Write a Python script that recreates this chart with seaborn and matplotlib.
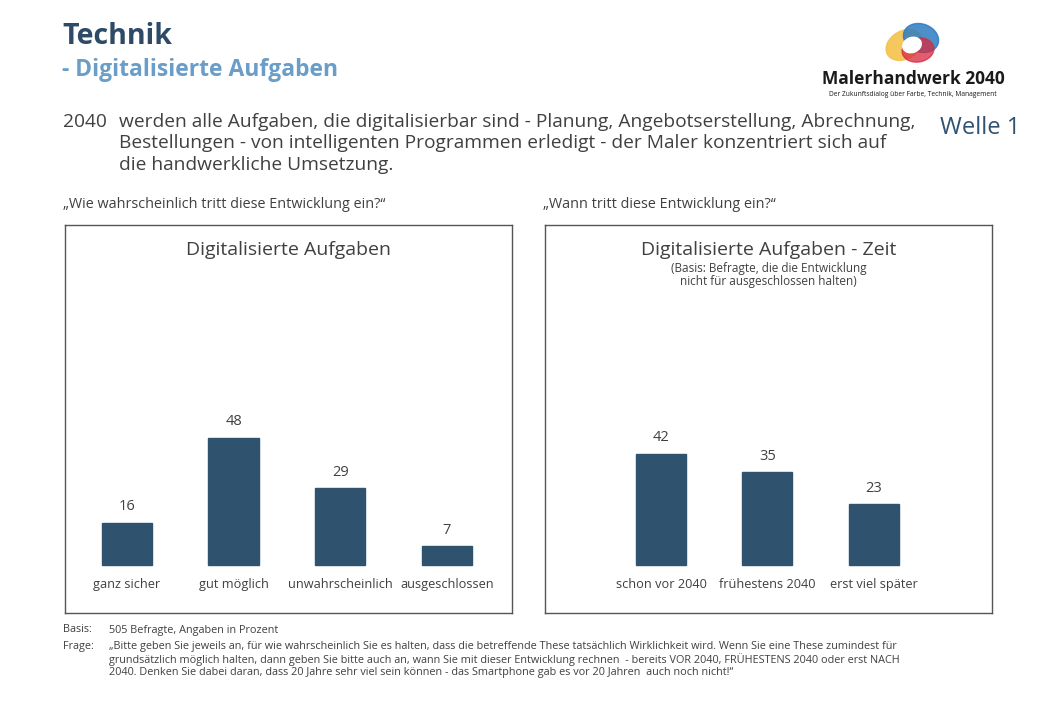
import matplotlib
matplotlib.use("Agg")
import matplotlib.pyplot as plt
from matplotlib.patches import Ellipse
import seaborn as sns
import pandas as pd

# data
left_cats = ["ganz sicher", "gut möglich", "unwahrscheinlich", "ausgeschlossen"]
left_vals = [16, 48, 29, 7]
right_cats = ["schon vor 2040", "frühestens 2040", "erst viel später"]
right_vals = [42, 35, 23]

left_title = "Digitalisierte Aufgaben"
right_title = "Digitalisierte Aufgaben - Zeit"
right_sub = "(Basis: Befragte, die die Entwicklung\nnicht für ausgeschlossen halten)"
left_q = "„Wie wahrscheinlich tritt diese Entwicklung ein?“"
right_q = "„Wann tritt diese Entwicklung ein?“"

body_lines = [
    "werden alle Aufgaben, die digitalisierbar sind - Planung, Angebotserstellung, Abrechnung,",
    "Bestellungen - von intelligenten Programmen erledigt - der Maler konzentriert sich auf",
    "die handwerkliche Umsetzung.",
]
frage_lines = [
    "„Bitte geben Sie jeweils an, für wie wahrscheinlich Sie es halten, dass die betreffende These tatsächlich Wirklichkeit wird. Wenn Sie eine These zumindest für",
    "grundsätzlich möglich halten, dann geben Sie bitte auch an, wann Sie mit dieser Entwicklung rechnen  - bereits VOR 2040, FRÜHESTENS 2040 oder erst NACH",
    "2040. Denken Sie dabei daran, dass 20 Jahre sehr viel sein können - das Smartphone gab es vor 20 Jahren  auch noch nicht!“",
]

BAR = "#2f536f"
TXT = "#404040"

sns.set_style("white")
plt.rcParams["font.family"] = ["Open Sans", "DejaVu Sans"]

W, H = 1040, 720
fig = plt.figure(figsize=(10.4, 7.2), dpi=100)


def fx(x):
    return x / W


def fy(y):
    return 1 - y / H


def panel(x0, x1, cats, vals, xlim, title, sub=None):
    ax = fig.add_axes([fx(x0), fy(613), fx(x1 - x0), (613 - 225) / H])
    df = pd.DataFrame({"cat": cats, "val": vals})
    sns.barplot(data=df, x="cat", y="val", color=BAR, width=0.47,
                saturation=1, ax=ax, edgecolor=BAR)
    ax.set_xlim(*xlim)
    ax.set_ylim(-18.1, 128.3)
    ax.set_xticks([])
    ax.set_yticks([])
    ax.set_xlabel("")
    ax.set_ylabel("")
    for s in ax.spines.values():
        s.set_visible(True)
        s.set_color("#555555")
        s.set_linewidth(1.0)
    for i, (c, v) in enumerate(zip(cats, vals)):
        ax.text(i, v + 6, str(v), ha="center", va="center", fontsize=10.5, color=TXT)
        ax.text(i, -7.3, c, ha="center", va="center", fontsize=9.2, color=TXT)
    ax.text(0.5, 1 - 25 / 388, title, transform=ax.transAxes, ha="center",
            va="center", fontsize=14, color=TXT)
    if sub:
        ax.text(0.5, 1 - 50 / 388, sub, transform=ax.transAxes, ha="center",
                va="center", fontsize=8.5, color=TXT, linespacing=1.0)
    return ax


panel(65, 512, left_cats, left_vals, (-0.58, 3.61), left_title)
panel(545, 992, right_cats, right_vals, (-1.09, 3.11), right_title, right_sub)

# header
fig.text(fx(62), fy(36), "Technik", fontsize=20.5, fontweight="bold",
         color="#2d4b66", va="center")
fig.text(fx(62), fy(70), "- Digitalisierte Aufgaben", fontsize=16.5,
         fontweight="bold", color="#6a9dc8", va="center")

fig.text(fx(63), fy(122), "2040", fontsize=13.8, color=TXT, va="center")
for k, line in enumerate(body_lines):
    fig.text(fx(119), fy(122 + k * 21.5), line, fontsize=13.8, color=TXT, va="center")
fig.text(fx(940), fy(128), "Welle 1", fontsize=17, color="#2f5272", va="center")

fig.text(fx(63), fy(205), left_q, fontsize=10.4, color=TXT, va="center")
fig.text(fx(543), fy(205), right_q, fontsize=10.4, color=TXT, va="center")

# footer
fig.text(fx(63), fy(630), "Basis:", fontsize=7.8, color=TXT, va="center")
fig.text(fx(109), fy(630), "505 Befragte, Angaben in Prozent", fontsize=7.8, color=TXT, va="center")
fig.text(fx(63), fy(647), "Frage:", fontsize=7.8, color=TXT, va="center")
for k, line in enumerate(frage_lines):
    fig.text(fx(109), fy(647 + k * 13), line, fontsize=7.8, color=TXT, va="center")

# logo
lax = fig.add_axes([fx(808), fy(100), fx(208), 85 / H])
lax.set_xlim(0, 208)
lax.set_ylim(85, 0)
lax.axis("off")
lax.add_patch(Ellipse((96, 30), 38, 28, angle=-30, color="#f3c24b", alpha=0.9))
lax.add_patch(Ellipse((113, 23), 36, 28, angle=20, color="#2d7cc0", alpha=0.85))
lax.add_patch(Ellipse((110, 35), 32, 24, angle=-10, color="#d8283f", alpha=0.75))
lax.add_patch(Ellipse((104, 30), 19, 15, angle=-20, color="white"))
lax.text(105, 64, "Malerhandwerk 2040", ha="center", va="center",
         fontsize=12.5, fontweight="bold", color="#1a1a1a")
lax.text(105, 79, "Der Zukunftsdialog über Farbe, Technik, Management",
         ha="center", va="center", fontsize=4.8, color="#1a1a1a")

fig.savefig("out.png", dpi=100)
